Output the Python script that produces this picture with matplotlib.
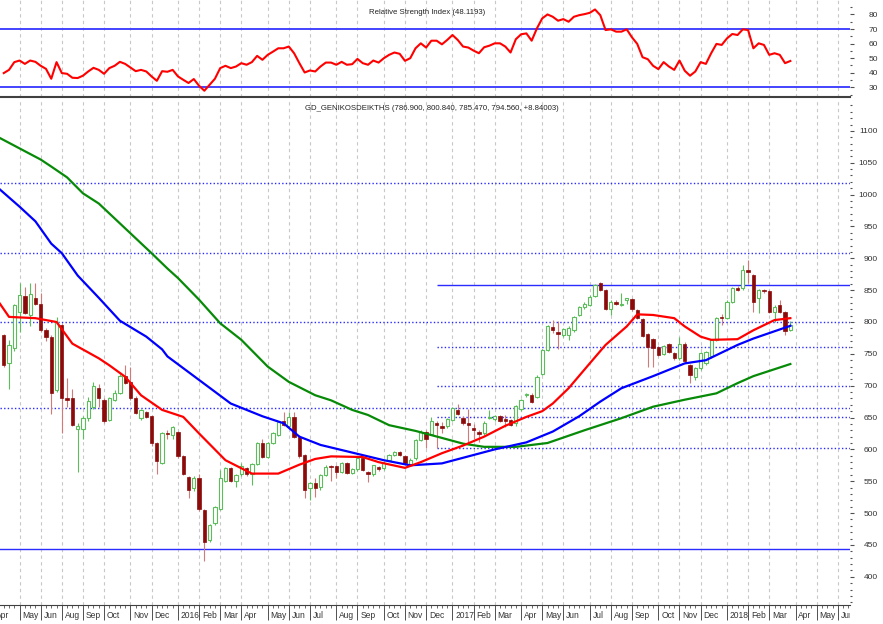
import numpy as np
import pandas as pd
import matplotlib
matplotlib.use('Agg')
import matplotlib.pyplot as plt
import matplotlib.transforms as mtransforms
from matplotlib.ticker import MultipleLocator, FixedLocator

plt.rcParams['font.family'] = ['Liberation Sans Narrow', 'Liberation Sans', 'DejaVu Sans']

# weekly bars (Friday dates); the Athens exchange was shut in July 2015
weeks = pd.date_range('2015-04-03', '2018-07-06', freq='W-FRI')
weeks = weeks[(weeks < '2015-06-29') | (weeks > '2015-08-01')]
# weeks whose Friday was a holiday count for the month before
holiday_fridays = pd.to_datetime(['2015-05-01', '2016-01-01'])
first_bar = 2  # 17 Apr 2015

opens = [779, 736, 759, 815, 841, 811, 837, 829, 788, 777, 693, 795, 680, 680, 632, 632, 649, 667, 696, 677,
         646, 678, 689, 715, 706, 680, 649, 659, 652, 610, 579, 626, 623, 627, 589, 556, 539, 555, 505, 458,
         484, 507, 551, 570, 551, 561, 570, 561, 577, 610, 588, 610, 623, 645, 637, 651, 620, 591, 539, 548,
         541, 560, 574, 574, 565, 578, 563, 569, 586, 564, 561, 573, 570, 583, 591, 596, 589, 577, 586, 615,
         628, 624, 642, 637, 636, 646, 662, 650, 642, 634, 628, 625, 649, 647, 652, 647, 646, 641, 663, 685,
         686, 683, 719, 756, 792, 784, 779, 780, 787, 811, 823, 827, 841, 861, 850, 821, 832, 827, 835, 836,
         819, 804, 781, 773, 760, 750, 765, 751, 743, 765, 732, 714, 727, 735, 746, 772, 808, 806, 832, 854,
         853, 882, 874, 837, 850, 848, 816, 827, 816, 786.9]
highs = [781, 772, 829, 861, 855, 861, 861, 845, 790, 780, 808, 797, 712, 695, 641, 652, 683, 706, 703, 681,
         682, 693, 718, 732, 730, 684, 664, 661, 654, 612, 628, 630, 637, 629, 591, 558, 558, 562, 507, 483,
         511, 568, 573, 572, 562, 578, 572, 579, 612, 617, 612, 628, 645, 658, 659, 659, 622, 593, 549, 555,
         562, 575, 576, 576, 580, 580, 571, 586, 588, 566, 575, 574, 581, 593, 598, 598, 591, 586, 616, 630,
         630, 651, 645, 643, 650, 667, 672, 653, 664, 640, 630, 644, 662, 654, 654, 654, 648, 670, 679, 689,
         688, 716, 758, 795, 803, 801, 791, 793, 810, 825, 831, 842, 860, 863, 852, 834, 835, 845, 838, 838,
         821, 806, 783, 775, 762, 764, 767, 753, 776, 768, 734, 729, 753, 755, 774, 808, 813, 834, 855, 857,
         889, 897, 876, 852, 852, 850, 826, 834, 818, 800.84]
lows = [729, 695, 755, 785, 812, 793, 826, 785, 770, 656, 690, 625, 667, 636, 565, 617, 645, 664, 666, 642,
        644, 676, 687, 703, 678, 655, 646, 649, 605, 562, 577, 617, 617, 587, 560, 523, 534, 504, 424, 455,
        482, 505, 549, 549, 541, 559, 559, 544, 575, 586, 586, 608, 621, 636, 635, 618, 587, 523, 521, 525,
        537, 558, 550, 555, 563, 561, 561, 566, 566, 549, 559, 566, 568, 581, 589, 589, 576, 575, 584, 613,
        602, 622, 602, 625, 634, 644, 654, 639, 612, 616, 611, 623, 647, 645, 643, 635, 636, 636, 661, 683,
        673, 681, 717, 754, 782, 757, 777, 772, 785, 809, 821, 825, 839, 848, 819, 811, 826, 825, 829, 818,
        804, 776, 730, 730, 746, 748, 751, 741, 741, 736, 704, 709, 725, 733, 744, 770, 795, 804, 830, 849,
        851, 861, 816, 814, 846, 814, 800, 814, 780, 785.47]
closes = [732, 764, 827, 842, 814, 844, 829, 788, 777, 689, 800, 680, 678, 638, 637, 649, 676, 699, 680, 644,
          680, 688, 715, 705, 680, 657, 662, 651, 610, 581, 626, 624, 635, 589, 562, 537, 555, 506, 455, 481,
          509, 555, 570, 551, 560, 574, 561, 577, 610, 588, 610, 626, 643, 638, 651, 620, 589, 536, 547, 540,
          560, 573, 572, 565, 578, 563, 569, 586, 568, 562, 575, 569, 579, 591, 596, 591, 578, 584, 615, 628,
          617, 644, 638, 633, 648, 665, 656, 641, 638, 630, 624, 642, 651, 652, 645, 645, 638, 668, 677, 687,
          675, 714, 756, 793, 787, 781, 789, 791, 808, 823, 829, 840, 858, 850, 821, 832, 828, 829, 837, 820,
          806, 778, 761, 759, 748, 762, 753, 743, 766, 738, 717, 727, 751, 753, 772, 806, 806, 832, 853, 851,
          882, 879, 832, 850, 848, 816, 824, 816, 786, 794.56]

rsi = [39.8, 42, 47.3, 48.4, 46.1, 48.4, 47.5, 44.8, 42.7, 35.9, 47.3, 39.8, 39.3, 36.6, 36.4, 38, 40.9, 43.4,
       42, 39.3, 43.2, 44.8, 47.5, 46.1, 43.6, 41.1, 42, 40.9, 37.5, 34.5, 41.1, 40.7, 42, 37.5, 35.2, 33, 35.7,
       31.1, 27.7, 31.8, 35.9, 43.2, 44.8, 43.2, 44.3, 46.6, 45.5, 47.3, 51.6, 48.9, 52.3, 54.5, 56.8, 56.8, 58,
       53.4, 46.6,
       40.2, 41.6, 40.9, 44.3, 47, 47, 45.5, 47.5, 45.5, 45.9, 49.5, 46.6, 45.5, 48.4, 47, 50, 52.3, 53.9, 53,
       48.2, 50, 56.8, 60.2, 57.3, 62, 62, 59.5, 62.5, 65.9, 62.5, 58, 57.3, 55.2, 53.4, 57.5, 58.6, 60.2, 60.2,
       58, 53.9, 63, 66.4, 67, 62, 70.5, 77.3, 80, 78.4, 75.7, 76.8, 75, 78.4, 79.5, 80.2, 81.1, 83.4, 79.5,
       69.3, 69.8, 68.2, 68.2, 69.8, 64.3, 59.8, 50.7, 49.3, 44.8, 42.5, 47.3, 44.3, 42, 48.4, 41.4, 38, 40.9,
       47.3, 46.1, 53.4, 59.8, 59.1, 63.6, 66.6, 65.9, 69.8, 69.3, 56.8, 60.2, 59.1, 52.3, 53.4, 52.3, 46.6, 48.1]

# moving averages read at some weeks
red_wk = [1, 3, 8, 12, 15, 20, 22, 25, 28, 32, 36, 39, 44, 49, 54, 58, 61, 64, 70, 73, 78, 81, 85, 89, 93,
          97, 101, 104, 106, 109, 113, 116, 120, 122, 125, 129, 131, 134, 136, 141, 144, 148, 151]
red_ma = [832, 808, 806, 800, 766, 743, 732, 714, 685, 662, 651, 625, 583, 562, 562, 576, 585, 589, 588, 580,
          571, 580, 594, 606, 620, 637, 651, 660, 672, 696, 735, 764, 793, 812, 811, 806, 793, 777, 772, 773,
          787, 803, 806]
blue_wk = [1, 5, 8, 11, 13, 16, 20, 24, 29, 32, 33, 39, 45, 51, 55, 58, 62, 68, 70, 74, 79, 85, 90, 95, 101,
           106, 111, 115, 119, 125, 131, 135, 141, 144, 151]
blue_ma = [1010, 981, 958, 923, 908, 873, 838, 802, 777, 757, 746, 709, 672, 652, 641, 620, 607, 595, 591, 583,
           575, 578, 589, 600, 611, 628, 652, 675, 696, 715, 735, 740, 764, 774, 794]
green_wk = [1, 9, 11, 14, 17, 20, 25, 30, 33, 35, 39, 43, 47, 52, 56, 61, 64, 68, 71, 75, 80, 85, 89, 93, 99,
            105, 112, 119, 125, 131, 137, 141, 144, 151]
green_ma = [1090, 1055, 1044, 1027, 1002, 986, 947, 908, 884, 869, 835, 798, 772, 730, 706, 685, 677, 662, 654,
            638, 629, 618, 609, 604, 604, 610, 630, 649, 667, 678, 688, 704, 715, 734]

# support / resistance lines
full_dotted = [1018, 908, 800, 665]
part_dotted = [761, 700, 651, 602]
part_solid = [858]
full_solid = [444]
part_start = 84

W, H = 883, 624
fig = plt.figure(figsize=(W / 100, H / 100), dpi=100)
ax_r = fig.add_axes([0, 1 - 97 / H, 850 / W, 97 / H])
ax_p = fig.add_axes([0, 1 - 605 / H, 850 / W, 505 / H])
xmin, xmax = 1.29, 162.3

# month ticks
adj = [d - pd.Timedelta(days=1) if d in holiday_fridays else d for d in weeks]
starts = [i for i in range(len(adj)) if i == 0 or (adj[i].year, adj[i].month) != (adj[i - 1].year, adj[i - 1].month)]
mlabels = [str(adj[i].year) if adj[i].month == 1 else adj[i].strftime('%b') for i in starts]

renderer = fig.canvas.get_renderer()


def size_for(text, px, base=7.0):
    # font size giving a text of about px pixels wide
    t = fig.text(0, 0, text, fontsize=base)
    w = t.get_window_extent(renderer).width
    t.remove()
    return base * px / w


title_size = size_for('Relative Strength Index (48.1193)', 116)
tick_size = size_for('1100', 18)
month_size = size_for('2016', 19)

grid_kw = dict(color='#c8c8c8', lw=0.8, ls=(0, (3, 3)))
for ax in (ax_r, ax_p):
    for s in ax.spines.values():
        s.set_visible(False)
    ax.set_xticks(starts)
    ax.set_xlim(xmin, xmax)
    ax.grid(axis='x', **grid_kw)
    ax.yaxis.tick_right()

# --- RSI panel
rsi_x = np.arange(first_bar, first_bar + len(rsi))
ax_r.plot(rsi_x, rsi, color='#ff0000', lw=1.5, zorder=4)
ax_r.axhline(70, color='#3535ff', lw=1.3, zorder=3)
ax_r.axhline(30, color='#3535ff', lw=1.3, zorder=3)
ax_r.set_ylim(23.4, 89.9)
ax_r.set_yticks([30, 40, 50, 60, 70, 80])
ax_r.yaxis.set_minor_locator(MultipleLocator(5))
ax_r.spines['bottom'].set_visible(True)
ax_r.spines['bottom'].set_color('#404040')
ax_r.spines['bottom'].set_linewidth(1.5)
ax_r.tick_params(axis='x', which='both', length=0, labelbottom=False)
ax_r.text(0.502, 0.876, 'Relative Strength Index (48.1193)', transform=ax_r.transAxes, ha='center',
          va='center', fontsize=title_size, color='#222222')

# --- price panel
idx = np.arange(first_bar, first_bar + len(opens))
o = np.array(opens, float)
h = np.array(highs, float)
l = np.array(lows, float)
c = np.array(closes, float)
up = c >= o
up_col = '#5cbd5c'
dn_col = '#8b0a0a'
dn_wick = '#d07a7a'
ax_p.vlines(idx[up], l[up], h[up], color=up_col, lw=0.8, zorder=3)
ax_p.vlines(idx[~up], l[~up], h[~up], color=dn_wick, lw=0.8, zorder=3)
ax_p.bar(idx[up], np.maximum(c - o, 0.8)[up], bottom=o[up], width=0.62, facecolor='white',
         edgecolor=up_col, lw=0.8, zorder=4)
ax_p.bar(idx[~up], np.maximum(o - c, 0.8)[~up], bottom=c[~up], width=0.62, facecolor=dn_col,
         edgecolor=dn_col, lw=0.5, zorder=4)

ax_p.plot(green_wk, green_ma, color='#078a07', lw=1.6, zorder=5)
ax_p.plot(blue_wk, blue_ma, color='#0000ff', lw=1.6, zorder=5)
ax_p.plot(red_wk, red_ma, color='#ff0000', lw=1.6, zorder=6)

line_col = '#2b2bff'
dots = (0, (1, 1.6))
for v in full_dotted:
    ax_p.axhline(v, color=line_col, lw=1.0, ls=dots, zorder=2)
for v in part_dotted:
    ax_p.hlines(v, part_start, xmax, color=line_col, lw=1.0, ls=dots, zorder=2)
for v in part_solid:
    ax_p.hlines(v, part_start, xmax, color=line_col, lw=1.0, zorder=2)
for v in full_solid:
    ax_p.axhline(v, color=line_col, lw=1.0, zorder=2)

ax_p.set_ylim(355.7, 1148.5)
ax_p.set_yticks(range(400, 1101, 50))
ax_p.yaxis.set_minor_locator(MultipleLocator(10))
ax_p.spines['bottom'].set_visible(True)
ax_p.spines['bottom'].set_color('#404040')
ax_p.xaxis.set_minor_locator(FixedLocator(np.arange(len(weeks))))
ax_p.tick_params(axis='x', which='major', direction='out', length=10.5, width=0.7, color='#505050',
                 labelbottom=False)
ax_p.tick_params(axis='x', which='minor', direction='out', length=2.5, width=0.6, color='#505050')
ax_p.text(0.508, 0.984, 'GD_GENIKOSDEIKTHS (786.900, 800.840, 785.470, 794.560, +8.84003)',
          transform=ax_p.transAxes, ha='center', va='center', fontsize=title_size, color='#222222')

for ax in (ax_r, ax_p):
    ax.set_xlim(xmin, xmax)
    ax.tick_params(axis='y', which='major', direction='out', length=3, width=0.8, color='#505050',
                   labelsize=tick_size, labelcolor='#333333', pad=17)
    ax.tick_params(axis='y', which='minor', direction='out', length=1.2, width=0.8, color='#505050')
    for t in ax.get_yticklabels():
        t.set_horizontalalignment('right')

# month labels, left aligned just right of each tick, cut at the plot edge
clip = mtransforms.TransformedBbox(mtransforms.Bbox([[0, 0], [850 / W, 1]]), fig.transFigure)
off = mtransforms.ScaledTranslation(2 / 72, -4 / 72, fig.dpi_scale_trans)
tr = mtransforms.blended_transform_factory(ax_p.transData, ax_p.transAxes) + off
for i, lab in zip(starts, mlabels):
    t = ax_p.text(i, 0, lab, transform=tr, ha='left', va='top', fontsize=month_size, color='#333333',
                  clip_on=False)
    t.set_clip_box(clip)
    t.set_clip_on(True)

fig.savefig('out.png', dpi=100)
